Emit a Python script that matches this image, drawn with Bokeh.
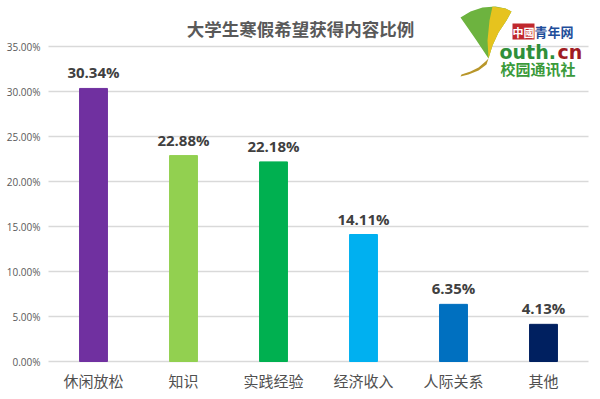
from bokeh.plotting import figure
from bokeh.models import ColumnDataSource, Range1d, Label, LabelSet, PolyAnnotation
from bokeh.core.properties import value
from bokeh.embed import file_html
from bokeh.resources import INLINE

categories = ["休闲放松", "知识", "实践经验", "经济收入", "人际关系", "其他"]
values = [30.34, 22.88, 22.18, 14.11, 6.35, 4.13]
colors = ["#7030A0", "#92D050", "#00B050", "#00B0F0", "#0070C0", "#002060"]
labels = ["30.34%", "22.88%", "22.18%", "14.11%", "6.35%", "4.13%"]
y_ticks = [0, 5, 10, 15, 20, 25, 30, 35]
y_tick_labels = ["0.00%", "5.00%", "10.00%", "15.00%", "20.00%", "25.00%", "30.00%", "35.00%"]
title_text = "大学生寒假希望获得内容比例"

CJK = "Noto Sans CJK SC"

n = len(categories)
xs = list(range(n))
src = ColumnDataSource(dict(x=xs, cat=categories, val=values, color=colors, lab=labels,
                            zero=[0] * n))
tick_src = ColumnDataSource(dict(y=y_ticks, lab=y_tick_labels,
                                 x0=[-0.5] * len(y_ticks), x1=[n - 0.5] * len(y_ticks)))

# frame covers the whole canvas; ranges chosen so the plot area sits like the reference
p = figure(x_range=Range1d(-93 / 90, (600 - 93) / 90), y_range=Range1d(-38 / 9, 361 / 9),
           width=600, height=399, output_backend="svg", toolbar_location=None,
           x_axis_location=None, y_axis_location=None,
           min_border=0, min_border_left=0, min_border_right=0,
           min_border_top=0, min_border_bottom=0)
p.outline_line_color = None
p.background_fill_color = "white"
p.border_fill_color = "white"
p.xgrid.visible = False
p.ygrid.visible = False

# horizontal gridlines
p.segment(x0="x0", x1="x1", y0="y", y1="y", source=tick_src,
          line_color="#d9d9d9", line_width=1.5)

p.vbar(x="x", top="val", width=0.31, color="color", source=src)

# value labels
p.add_layout(LabelSet(x="x", y="val", text="lab", source=src, text_align="center",
                      text_baseline="middle", y_offset=16, text_font=value("Open Sans"),
                      text_font_style="bold", text_font_size="15px", text_color="#404040"))

# category labels
p.add_layout(LabelSet(x="x", y="zero", text="cat", source=src, text_align="center",
                      text_baseline="middle", y_offset=-19, text_font=value(CJK),
                      text_font_size="15px", text_color="#505050"))

# y tick labels
p.add_layout(LabelSet(x="x0", y="y", text="lab", source=tick_src, x_offset=-8,
                      text_align="right", text_baseline="middle",
                      text_font=value("Open Sans"), text_font_size="10px",
                      text_color="#595959"))

# title
p.add_layout(Label(x=300, y=371, x_units="screen", y_units="screen", text=title_text,
                   text_align="center", text_baseline="middle", text_font=CJK,
                   text_font_style="bold", text_font_size="17.5px", text_color="#595959"))

# logo (decoration)
p.add_layout(PolyAnnotation(
    xs=[460, 470, 482, 495, 505, 511, 506, 498, 492, 488, 484, 476, 467],
    ys=[382, 388, 392, 393, 391, 388, 379, 367, 354, 341, 347, 359, 372],
    xs_units="screen", ys_units="screen",
    fill_color="#6DB33F", fill_alpha=1.0, line_color=None))
p.add_layout(PolyAnnotation(
    xs=[492, 505, 511, 506, 498, 492, 488, 487, 489],
    ys=[393, 391, 388, 379, 367, 354, 341, 359, 379],
    xs_units="screen", ys_units="screen",
    fill_color="#E6C31E", fill_alpha=1.0, line_color=None))
p.add_layout(PolyAnnotation(
    xs=[488, 486, 478, 468, 460, 461, 470, 478, 485],
    ys=[341, 335, 329, 325, 323, 325, 328, 332, 338],
    xs_units="screen", ys_units="screen",
    fill_color="#B8962A", fill_alpha=1.0, line_color=None))
p.add_layout(Label(x=512, y=368, x_units="screen", y_units="screen", text="中國",
                   text_baseline="middle", text_font=CJK, text_font_size="11px",
                   text_color="white", background_fill_color="#C0282D", text_font_style="bold"))
p.add_layout(Label(x=534, y=368, x_units="screen", y_units="screen", text="青年网",
                   text_baseline="middle", text_font=CJK, text_font_size="13px",
                   text_color="#1F4E9A", text_font_style="bold"))
p.add_layout(Label(x=499, y=348, x_units="screen", y_units="screen", text="outh.",
                   text_baseline="middle", text_font="DejaVu Sans", text_font_size="19px",
                   text_color="#2F8F3A", text_font_style="bold"))
p.add_layout(Label(x=557, y=348, x_units="screen", y_units="screen", text="cn",
                   text_baseline="middle", text_font="DejaVu Sans", text_font_size="19px",
                   text_color="#A01C24", text_font_style="bold"))
p.add_layout(Label(x=500, y=331, x_units="screen", y_units="screen", text="校园通讯社",
                   text_baseline="middle", text_font=CJK, text_font_size="15px",
                   text_color="#3A9A3A", text_font_style="bold"))

open("out.html", "w").write(file_html(p, INLINE))
